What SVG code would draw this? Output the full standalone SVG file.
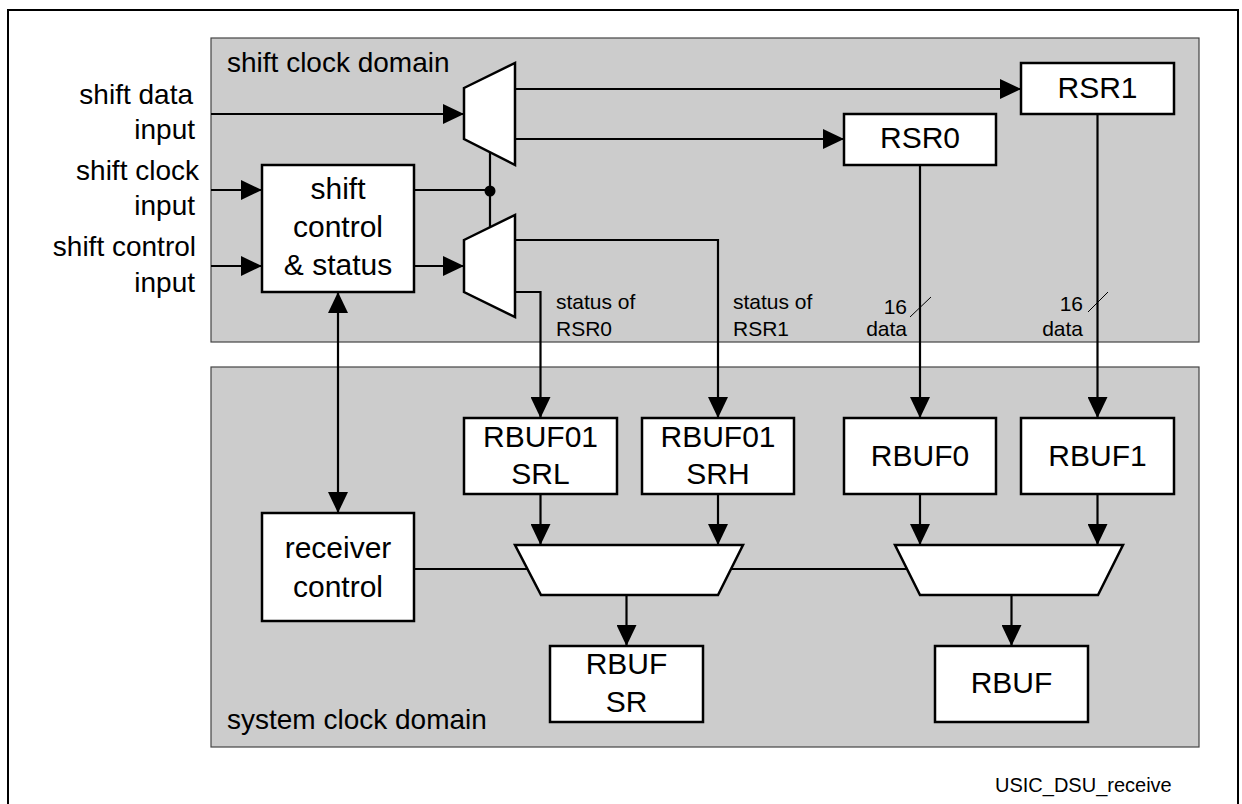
<svg xmlns="http://www.w3.org/2000/svg" width="1242" height="804" viewBox="0 0 1242 804">
<style>
.dom{fill:#cccccc;stroke:#444;stroke-width:1.2}
.box{fill:#fff;stroke:#000;stroke-width:2.5}
.mux{fill:#fff;stroke:#000;stroke-width:2.5;stroke-linejoin:miter}
.ln{fill:none;stroke:#000;stroke-width:2.2}
.arr{marker-end:url(#ah)}
.thin{fill:none;stroke:#000;stroke-width:1}
text{font-family:"Liberation Sans",Arial,Helvetica,sans-serif;fill:#000}
.lbl{font-size:28px}
.bl{font-size:30px;text-anchor:middle}
.sm{font-size:21px}
.end{text-anchor:end}
</style>
<defs>
<marker id="ah" viewBox="0 0 21 20" refX="21" refY="10" markerWidth="21" markerHeight="20" markerUnits="userSpaceOnUse" orient="auto-start-reverse">
<path d="M0,0 L21,10 L0,20 Z" fill="#000"/>
</marker>
</defs>
<rect x="8" y="10" width="1230" height="810" fill="#fff" stroke="#000" stroke-width="2"/>
<g id="shift-clock-domain">
<rect class="dom" x="211" y="38" width="988" height="304"/>
<text class="lbl" x="227" y="72">shift clock domain</text>
</g>
<g id="system-clock-domain">
<rect class="dom" x="211" y="367" width="988" height="380"/>
<text class="lbl" x="227" y="729">system clock domain</text>
</g>
<g id="inputs">
<text class="lbl end" x="193" y="104">shift data</text>
<text class="lbl end" x="195" y="139">input</text>
<text class="lbl end" x="199" y="180">shift clock</text>
<text class="lbl end" x="195" y="215">input</text>
<text class="lbl end" x="196" y="256">shift control</text>
<text class="lbl end" x="195" y="292">input</text>
</g>
<g id="connectors">
<path class="ln arr" d="M211,114 H464"/>
<path class="ln arr" d="M211,190 H262"/>
<path class="ln arr" d="M211,266 H262"/>
<path class="ln arr" d="M414,266 H464"/>
<path class="ln" d="M414,190 H490 M490,152 V228"/>
<circle cx="490" cy="191" r="5.5" fill="#000"/>
<path class="ln arr" d="M515,89 H1021"/>
<path class="ln arr" d="M515,139 H844"/>
<path class="ln arr" d="M515,240 H718 V418"/>
<path class="ln arr" d="M515,292 H540.5 V418"/>
<path class="ln arr" d="M920,165 V418"/>
<path class="ln arr" d="M1097.5,114 V418"/>
<path class="thin" d="M910,317 L931,297"/>
<path class="thin" d="M1088,312 L1108,292"/>
<path class="ln" d="M338,292 V513" marker-start="url(#ah)" marker-end="url(#ah)"/>
<path class="ln arr" d="M540.5,494 V545"/>
<path class="ln arr" d="M718,494 V545"/>
<path class="ln arr" d="M920,494 V545"/>
<path class="ln arr" d="M1097.5,494 V545"/>
<path class="ln" d="M414,569 H528 M731,569 H907"/>
<path class="ln arr" d="M626.5,595 V646"/>
<path class="ln arr" d="M1011.5,595 V646"/>
</g>
<g id="labels">
<text class="sm" x="556" y="309">status of</text>
<text class="sm" x="556" y="336">RSR0</text>
<text class="sm" x="733" y="309">status of</text>
<text class="sm" x="733" y="336">RSR1</text>
<text class="sm end" x="907" y="314">16</text>
<text class="sm end" x="907" y="336">data</text>
<text class="sm end" x="1083" y="311">16</text>
<text class="sm end" x="1083" y="336">data</text>
</g>
<g id="mux-data">
<polygon class="mux" points="464,88 515,63 515,165 464,139"/>
</g>
<g id="mux-status">
<polygon class="mux" points="464,240 515,215 515,317 464,292"/>
</g>
<g id="shift-control">
<rect class="box" x="262" y="165" width="152" height="127"/>
<text class="bl" x="338" y="199">shift</text>
<text class="bl" x="338" y="237">control</text>
<text class="bl" x="338" y="275">&amp; status</text>
</g>
<g id="RSR1">
<rect class="box" x="1021" y="63" width="153" height="51"/>
<text class="bl" x="1097.5" y="98">RSR1</text>
</g>
<g id="RSR0">
<rect class="box" x="844" y="114" width="152" height="51"/>
<text class="bl" x="920" y="148">RSR0</text>
</g>
<g id="RBUF01SRL">
<rect class="box" x="464" y="418" width="153" height="76"/>
<text class="bl" x="540.5" y="447">RBUF01</text>
<text class="bl" x="540.5" y="484">SRL</text>
</g>
<g id="RBUF01SRH">
<rect class="box" x="642" y="418" width="152" height="76"/>
<text class="bl" x="718" y="447">RBUF01</text>
<text class="bl" x="718" y="484">SRH</text>
</g>
<g id="RBUF0">
<rect class="box" x="844" y="418" width="152" height="76"/>
<text class="bl" x="920" y="466">RBUF0</text>
</g>
<g id="RBUF1">
<rect class="box" x="1021" y="418" width="153" height="76"/>
<text class="bl" x="1097.5" y="466">RBUF1</text>
</g>
<g id="receiver-control">
<rect class="box" x="262" y="513" width="152" height="108"/>
<text class="bl" x="338" y="558">receiver</text>
<text class="bl" x="338" y="597">control</text>
</g>
<g id="mux-sr">
<polygon class="mux" points="515,545 743,545 718,595 541,595"/>
</g>
<g id="mux-buf">
<polygon class="mux" points="895,545 1123,545 1098,595 920,595"/>
</g>
<g id="RBUFSR">
<rect class="box" x="550" y="646" width="153" height="76"/>
<text class="bl" x="626.5" y="674">RBUF</text>
<text class="bl" x="626.5" y="712">SR</text>
</g>
<g id="RBUF">
<rect class="box" x="935" y="646" width="153" height="76"/>
<text class="bl" x="1011.5" y="693">RBUF</text>
</g>
<text x="995" y="792" font-size="20">USIC_DSU_receive</text>
</svg>
